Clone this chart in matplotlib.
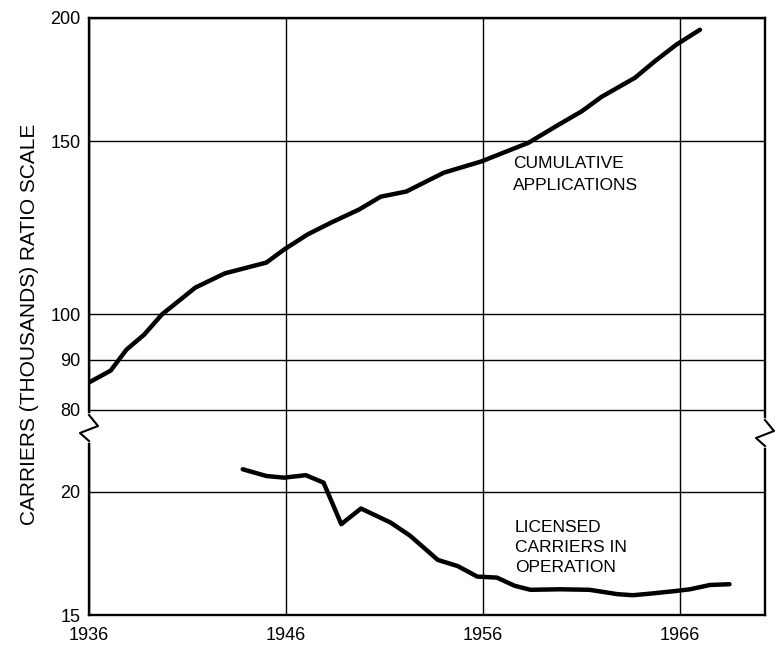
import numpy as np
import matplotlib
matplotlib.use("Agg")
import matplotlib.pyplot as plt
from matplotlib.ticker import NullLocator

plt.rcParams['font.family'] = ['Liberation Sans', 'DejaVu Sans']

# cumulative applications (thousands)
app_years = [1936.0, 1937.1, 1937.9, 1938.8, 1939.7, 1941.4, 1942.9, 1945.0, 1945.9,
             1947.1, 1948.3, 1949.7, 1950.8, 1952.1, 1954.0, 1955.9, 1958.3, 1959.7,
             1961.0, 1962.0, 1963.7, 1964.7, 1965.8, 1967.0]
app_vals = [85.3, 87.7, 92.1, 95.4, 100.0, 106.5, 110.1, 112.9, 116.4,
            120.6, 124.0, 127.8, 131.7, 133.3, 139.3, 143.0, 149.4, 155.3,
            160.8, 166.3, 173.9, 180.7, 187.9, 194.6]

# licensed carriers in operation (thousands)
lic_years = [1943.8, 1945.0, 1945.9, 1947.0, 1947.9, 1948.8, 1949.8, 1951.3, 1952.3,
             1953.7, 1954.7, 1955.7, 1956.7, 1957.6, 1958.4, 1959.9, 1961.4, 1962.8,
             1963.6, 1964.5, 1965.7, 1966.5, 1967.5, 1968.5]
lic_vals = [21.09, 20.76, 20.68, 20.80, 20.44, 18.55, 19.24, 18.62, 18.05,
            17.06, 16.82, 16.41, 16.37, 16.06, 15.91, 15.93, 15.91, 15.75,
            15.71, 15.77, 15.86, 15.93, 16.09, 16.12]

x_ticks = [1936, 1946, 1956, 1966]
y_ticks = [15, 20, 80, 90, 100, 150, 200]

# ratio scale with a break between the two ranges
LOW_TOP = 23.26
HIGH_BOT = 76.8


def fwd(v):
    v = np.clip(np.asarray(v, dtype=float), 1e-6, None)
    return np.log(np.minimum(v, LOW_TOP)) + np.log(np.maximum(v, HIGH_BOT) / HIGH_BOT)


def inv(y):
    y = np.asarray(y, dtype=float)
    return np.where(y <= np.log(LOW_TOP), np.exp(y), HIGH_BOT * np.exp(y - np.log(LOW_TOP)))


W, H = 779, 645
fig = plt.figure(figsize=(W / 100, H / 100), dpi=100)
ax = fig.add_axes([89 / W, 1 - 615 / H, (765 - 89) / W, (615 - 18) / H])

ax.set_yscale('function', functions=(fwd, inv))
ax.set_ylim(15, 200)
ax.set_xlim(1936, 1970.3)

ax.plot(app_years, app_vals, color='black', lw=3.2, solid_capstyle='round', zorder=3)
ax.plot(lic_years, lic_vals, color='black', lw=3.2, solid_capstyle='round', zorder=3)

ax.set_xticks(x_ticks)
ax.set_xticklabels([str(t) for t in x_ticks], fontsize=13)
ax.set_yticks(y_ticks)
ax.set_yticklabels([str(t) for t in y_ticks], fontsize=13)
ax.yaxis.set_minor_locator(NullLocator())
ax.xaxis.set_minor_locator(NullLocator())
ax.tick_params(length=0)
ax.tick_params(axis='y', pad=6)
ax.tick_params(axis='x', pad=9)
ax.grid(True, color='black', lw=1.0)
ax.set_axisbelow(True)
for s in ax.spines.values():
    s.set_linewidth(1.7)

ax.text(1957.5, 145, 'CUMULATIVE\nAPPLICATIONS', fontsize=12.5, va='top', ha='left',
        linespacing=1.6)
ax.text(1957.6, 18.75, 'LICENSED\nCARRIERS IN\nOPERATION', fontsize=12.5, va='top', ha='left',
        linespacing=1.45)

fig.text(30 / W, 1 - 324 / H, 'CARRIERS (THOUSANDS) RATIO SCALE', rotation=90,
         ha='center', va='center', fontsize=15)

# zigzag break marks on both side spines
zig = [(0, -13), (9, -2), (-9, 5), (0, 13)]
for xs, yb in [(89, 428), (765, 433)]:
    fig.lines.append(plt.Line2D([xs / W, xs / W], [1 - (yb - 12) / H, 1 - (yb + 12) / H],
                                transform=fig.transFigure, color='white', lw=4, zorder=10))
    fig.lines.append(plt.Line2D([(xs + dx) / W for dx, dy in zig],
                                [1 - (yb + dy) / H for dx, dy in zig],
                                transform=fig.transFigure, color='black', lw=1.5, zorder=11))

fig.savefig('out.png', dpi=100)
